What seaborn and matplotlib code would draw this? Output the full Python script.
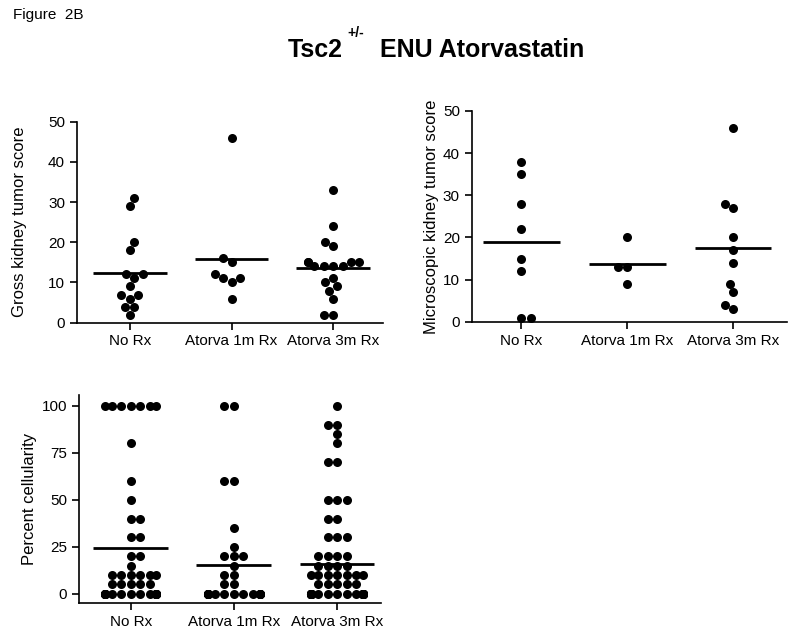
import numpy as np
import pandas as pd
import matplotlib
matplotlib.use("Agg")
import matplotlib.pyplot as plt
import seaborn as sns


groups = ['No Rx', 'Atorva 1m Rx', 'Atorva 3m Rx']

# Gross kidney tumor score
gross_norx = [31, 29, 20, 18, 12, 12, 11, 9, 7, 7, 6, 4, 4, 2]
gross_1m = [46, 16, 15, 12, 11, 11, 10, 6]
gross_3m = [33, 24, 20, 19, 15, 15, 15, 15, 14, 14, 14, 14, 11, 10, 9, 8, 6, 2, 2]

# Microscopic kidney tumor score
micro_norx = [38, 35, 28, 22, 15, 12, 1, 1]
micro_1m = [20, 13, 13, 9]
micro_3m = [46, 28, 27, 20, 17, 14, 9, 7, 4, 3]

# Percent cellularity (many zeros overlap in the original)
cell_norx = [100, 100, 100, 100, 100, 100, 100, 80, 60, 50, 40, 40, 30, 30,
             20, 20, 15, 10, 10, 10, 10, 10, 10, 5, 5, 5, 5, 5,
             0, 0, 0, 0, 0, 0, 0, 0, 0, 0, 0, 0, 0, 0, 0, 0, 0, 0, 0, 0]
cell_1m = [100, 100, 60, 60, 35, 25, 20, 20, 20, 15, 10, 10, 5, 5,
           0, 0, 0, 0, 0, 0, 0, 0, 0, 0, 0, 0, 0, 0, 0, 0, 0, 0]
cell_3m = [100, 90, 90, 85, 80, 70, 70, 50, 50, 50, 40, 40, 30, 30, 30,
           20, 20, 20, 20, 15, 15, 15, 15, 10, 10, 10, 10, 10, 10, 10,
           5, 5, 5, 5, 5,
           0, 0, 0, 0, 0, 0, 0, 0, 0, 0, 0, 0, 0, 0, 0, 0, 0, 0,
           0, 0, 0, 0, 0, 0, 0, 0, 0, 0, 0, 0, 0, 0, 0, 0, 0, 0]

# spacing between group columns; each swarm gets 0.8 units so columns stay narrow
SPACING = 1.6


def to_frame(*cols):
    return pd.DataFrame({
        'group': np.repeat(groups, [len(c) for c in cols]),
        'value': np.concatenate(cols),
    })


# Scatter of each group with a horizontal line at the mean
def dot_panel(ax, df, ylim, yticks, ylabel, label_x, xlim):
    pos = np.arange(len(groups)) * SPACING
    df['pos'] = df['group'].map(dict(zip(groups, pos)))
    for g in groups:
        sns.swarmplot(data=df[df['group'] == g], x='pos', y='value', orient='x',
                      native_scale=True, color='black', size=6.5, ax=ax, warn_thresh=1)
    means = df.groupby('group')['value'].mean().reindex(groups)
    ax.hlines(means.values, pos - 0.58, pos + 0.58, color='black', lw=2)

    ax.set_xlim(xlim[0] * SPACING, xlim[1] * SPACING)
    ax.set_xticks(pos)
    ax.set_xticklabels(groups)
    ax.set_ylim(*ylim)
    ax.set_yticks(yticks)
    ax.set_xlabel('')
    ax.set_ylabel(ylabel, fontsize=12)
    ax.yaxis.set_label_coords(label_x, 0.5)
    sns.despine(ax=ax)
    for s in ['left', 'bottom']:
        ax.spines[s].set_linewidth(1.2)
        ax.spines[s].set_color('black')
    ax.tick_params(axis='both', labelsize=11, width=1.2, length=5, color='black')


sns.set_style('ticks', rc={'text.color': 'black', 'axes.labelcolor': 'black',
                           'xtick.color': 'black', 'ytick.color': 'black'})
plt.rcParams['font.family'] = ['Liberation Sans', 'DejaVu Sans']

fig = plt.figure(figsize=(8, 6.41), dpi=100)

ax1 = fig.add_axes([0.096, 0.4966, 0.383, 0.3136])
dot_panel(ax1, to_frame(gross_norx, gross_1m, gross_3m), (0, 50),
          [0, 10, 20, 30, 40, 50], 'Gross kidney tumor score', -0.163, (-0.52, 2.49))

ax2 = fig.add_axes([0.5896, 0.498, 0.394, 0.329])
dot_panel(ax2, to_frame(micro_norx, micro_1m, micro_3m), (0, 50),
          [0, 10, 20, 30, 40, 50], 'Microscopic kidney tumor score', -0.105, (-0.47, 2.51))

ax3 = fig.add_axes([0.0988, 0.0588, 0.378, 0.325])
dot_panel(ax3, to_frame(cell_norx, cell_1m, cell_3m), (-5, 105.7),
          [0, 25, 50, 75, 100], 'Percent cellularity', -0.139, (-0.5, 2.43))

# Titles
fig.text(13 / 800, 1 - 19 / 641, 'Figure  2B', fontsize=11, va='baseline')
fig.text(288 / 800, 1 - 57 / 641, 'Tsc2', fontsize=18, fontweight='bold', va='baseline')
fig.text(347 / 800, 1 - 37 / 641, '+/-', fontsize=10, fontweight='bold', va='baseline')
fig.text(380 / 800, 1 - 57 / 641, 'ENU Atorvastatin', fontsize=18, fontweight='bold', va='baseline')

plt.savefig('out.png', dpi=100)
plt.close()
